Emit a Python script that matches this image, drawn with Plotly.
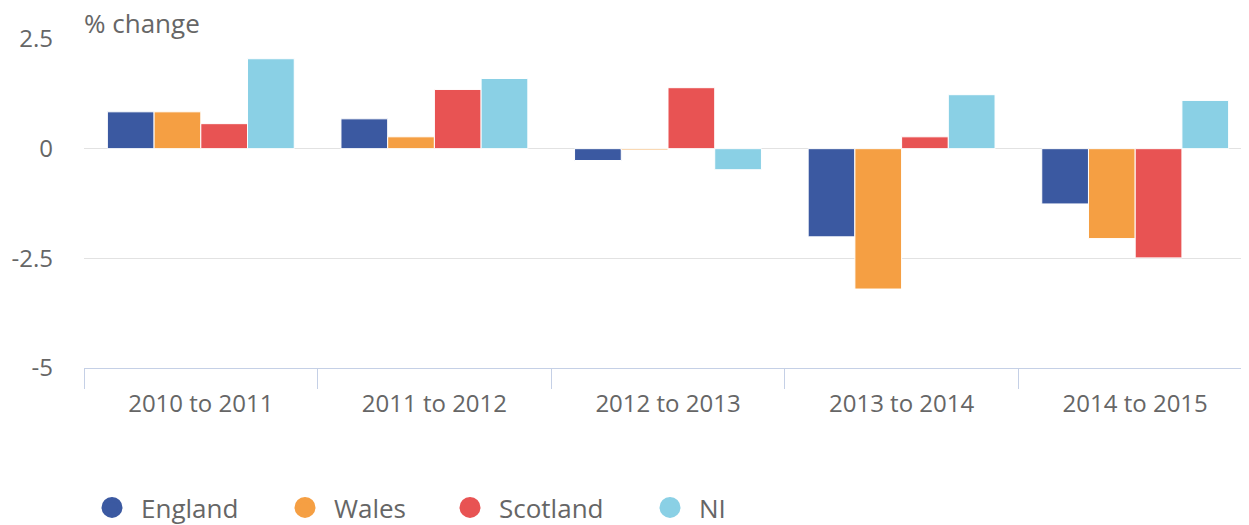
import plotly.graph_objects as go

categories = ["2010 to 2011", "2011 to 2012", "2012 to 2013", "2013 to 2014", "2014 to 2015"]
england = [0.84, 0.68, -0.27, -2.01, -1.26]
wales = [0.84, 0.27, -0.03, -3.2, -2.05]
scotland = [0.57, 1.35, 1.39, 0.27, -2.49]
ni = [2.05, 1.6, -0.48, 1.23, 1.1]
series_names = ["England", "Wales", "Scotland", "NI"]
series_values = [england, wales, scotland, ni]
colors = ["#3b59a1", "#f59f43", "#e85353", "#8ad0e5"]
y_ticks = [-5, -2.5, 0, 2.5]
y_ticklabels = ["-5", "-2.5", "0", "2.5"]

FONT = "Open Sans"
GREY = "#666666"
W, H = 1249, 525
# page is offset by the 8px body margin
legend_px = [75, 268, 433, 633]
legend_ids = ["legend", "legend2", "legend3", "legend4"]

fig = go.Figure()
for name, vals, col in zip(series_names, series_values, colors):
    fig.add_trace(go.Bar(
        x=categories, y=vals, name=name, showlegend=False,
        marker=dict(color=col, line=dict(color="white", width=1)),
    ))
for name, col, lid in zip(series_names, colors, legend_ids):
    fig.add_trace(go.Scatter(
        x=[categories[0]], y=[None], mode="markers", name=name, legend=lid,
        marker=dict(symbol="circle", size=16, color=col, line=dict(color=col, width=5)),
    ))

legend_layout = {}
for lid, px in zip(legend_ids, legend_px):
    legend_layout[lid] = dict(
        xref="container", yref="container",
        x=px / W, xanchor="left", y=(H - 499.5) / H, yanchor="middle",
        font=dict(size=26, color=GREY, family=FONT),
        itemsizing="trace", itemwidth=48, bgcolor="rgba(0,0,0,0)",
    )

fig.update_layout(
    width=W, height=H,
    margin=dict(l=76, r=5, t=31, b=165, autoexpand=False),
    paper_bgcolor="white", plot_bgcolor="white",
    barmode="group", bargap=0.2, bargroupgap=0,
    font=dict(family=FONT, color=GREY, size=24),
    annotations=[dict(
        text="% change", x=0, y=1, xref="paper", yref="paper",
        xanchor="left", yanchor="bottom", yshift=-4, xshift=-2, showarrow=False,
        font=dict(size=26, color=GREY, family=FONT),
    )],
    **legend_layout,
)
fig.update_xaxes(
    showline=True, linecolor="#c5d0e6", linewidth=1,
    ticks="outside", ticklen=20, tickcolor="#c5d0e6", tickson="boundaries",
    ticklabelstandoff=14, automargin=False,
    showgrid=False, tickfont=dict(size=24, color=GREY),
)
fig.update_yaxes(
    range=[-5, 2.5], tickvals=y_ticks, ticktext=y_ticklabels,
    showgrid=True, gridcolor="#e2e2e2", gridwidth=1,
    zeroline=False, showline=False, ticks="", automargin=False,
    ticklabelstandoff=30, tickfont=dict(size=24, color=GREY),
)

fig.write_html("out.html")
